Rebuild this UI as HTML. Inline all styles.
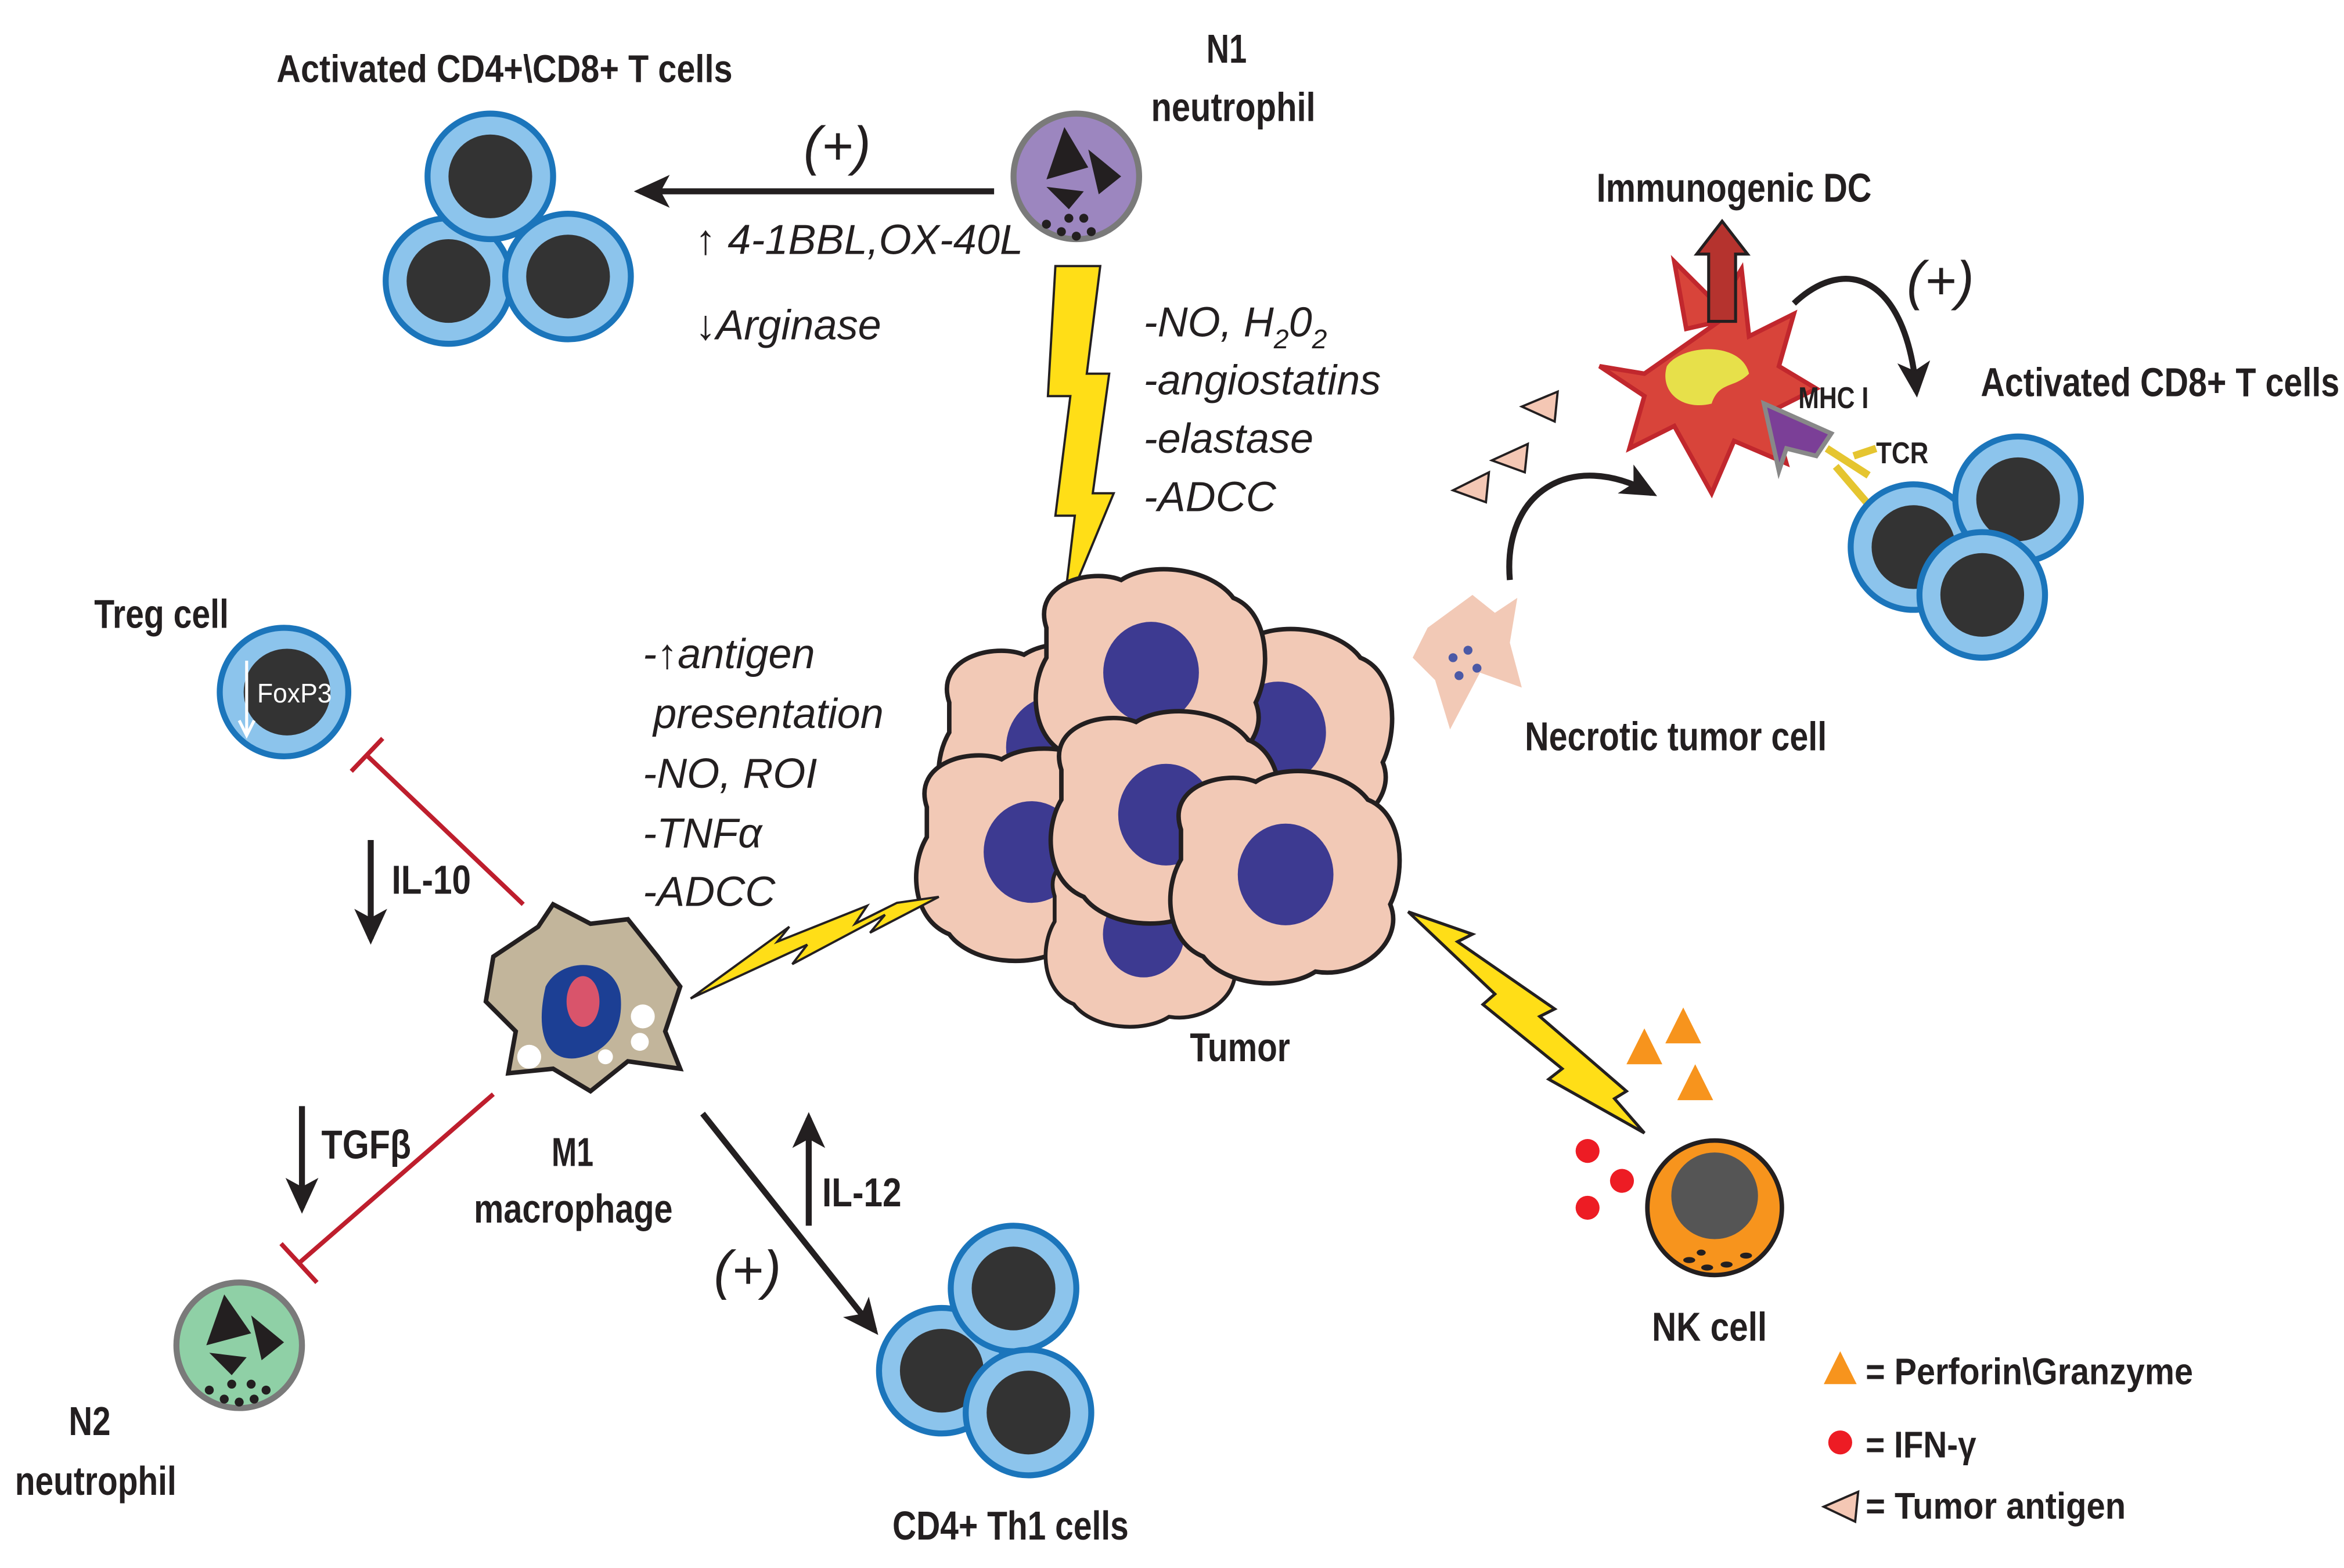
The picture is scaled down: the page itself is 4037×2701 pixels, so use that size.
<!DOCTYPE html>
<html><head><meta charset="utf-8"><style>
html,body{margin:0;padding:0;background:#fff;}
svg{display:block;}
.t{font-family:"Liberation Sans",sans-serif;font-weight:bold;fill:#231f20;}
.i{font-family:"Liberation Sans",sans-serif;font-style:italic;fill:#231f20;}
</style></head><body>
<svg width="4037" height="2701" viewBox="0 0 1568 1049" preserveAspectRatio="none" xmlns="http://www.w3.org/2000/svg">
<defs>
<marker id="ah2" markerWidth="26" markerHeight="26" refX="20" refY="13" orient="auto" markerUnits="userSpaceOnUse" viewBox="0 0 26 26">
<path d="M0,2 L24,13 L0,24 L6,13 z" fill="#231f20"/></marker>
<g id="tc"><circle r="42" fill="#8cc4ec" stroke="#1b75bb" stroke-width="4"/><circle r="28" fill="#333"/></g>
<g id="tumorcell"><path d="M-70,-30 C-80,-60 -40,-70 -20,-62 C0,-75 40,-70 55,-50 C80,-40 80,0 70,20 C80,45 50,70 20,65 C0,78 -40,75 -55,55 C-80,45 -82,10 -70,-10 Z" fill="#f2c9b6" stroke="#231f20" stroke-width="3"/><ellipse cx="0" cy="0" rx="32" ry="34" fill="#3d3a91"/></g>
</defs>

<!-- top-left T cells -->
<text class="t" x="185" y="55" font-size="26" textLength="305" lengthAdjust="spacingAndGlyphs">Activated CD4+\CD8+ T cells</text>
<use href="#tc" x="300" y="188"/><use href="#tc" x="380" y="185"/><use href="#tc" x="328" y="118"/>
<line x1="665" y1="128" x2="428" y2="128" stroke="#231f20" stroke-width="4" marker-end="url(#ah2)"/>
<text class="i" x="560" y="110" font-size="36" font-style="normal" text-anchor="middle">(+)</text>
<text class="i" x="465" y="170" font-size="28">↑ 4-1BBL,OX-40L</text>
<text class="i" x="465" y="227" font-size="28">↓Arginase</text>

<!-- N1 -->
<text class="t" x="807" y="42" font-size="27" textLength="27" lengthAdjust="spacingAndGlyphs">N1</text>
<text class="t" x="770" y="81" font-size="27" textLength="110" lengthAdjust="spacingAndGlyphs">neutrophil</text>
<circle cx="720" cy="118" r="42" fill="#9c86bf" stroke="#7a7a7a" stroke-width="4"/>
<path d="M712,85 L728,112 L700,120 Z M728,100 L750,118 L735,130 Z M700,125 L725,128 L715,140 Z" fill="#231f20"/>
<g fill="#231f20"><circle cx="700" cy="150" r="3"/><circle cx="710" cy="155" r="3"/><circle cx="720" cy="158" r="3"/><circle cx="730" cy="155" r="3"/><circle cx="715" cy="146" r="3"/><circle cx="725" cy="146" r="3"/></g>
<path d="M706,178 L736,178 L727,250 L742,250 L731,330 L745,330 L711,412 L719,345 L706,345 L716,265 L701,265 Z" fill="#ffde17" stroke="#231f20" stroke-width="1.5"/>
<text class="i" x="765" y="225" font-size="28">-NO, H<tspan font-size="18" dy="8">2</tspan><tspan dy="-8">0</tspan><tspan font-size="18" dy="8">2</tspan></text>
<text class="i" x="765" y="264" font-size="28">-angiostatins</text>
<text class="i" x="765" y="303" font-size="28">-elastase</text>
<text class="i" x="765" y="342" font-size="28">-ADCC</text>

<!-- Tumor -->
<use href="#tumorcell" x="705" y="500"/>
<use href="#tumorcell" x="855" y="490"/>
<use href="#tumorcell" x="770" y="450"/>
<use href="#tumorcell" x="690" y="570"/>
<use href="#tumorcell" transform="translate(765,625) scale(0.85)"/>
<use href="#tumorcell" x="780" y="545"/>
<use href="#tumorcell" x="860" y="585"/>
<text class="t" x="796" y="710" font-size="27" textLength="67" lengthAdjust="spacingAndGlyphs">Tumor</text>

<!-- Immunogenic DC -->
<text class="t" x="1068" y="135" font-size="27" textLength="184" lengthAdjust="spacingAndGlyphs">Immunogenic DC</text>
<path d="M1150,215 L1100,250 L1070,245 L1100,265 L1090,300 L1120,285 L1145,330 L1160,295 L1195,310 L1185,275 L1215,260 L1190,245 L1200,210 L1170,225 L1165,180 L1150,205 L1120,175 L1128,220 Z" fill="#d8443a" stroke="#c1272d" stroke-width="3"/>
<path d="M1115,245 C1125,230 1165,228 1170,250 C1160,260 1150,255 1145,270 C1125,275 1110,262 1115,245 Z" fill="#e7e04a"/>
<path d="M1143,215 L1143,170 L1135,170 L1152,148 L1169,170 L1161,170 L1161,215 Z" fill="#b5332e" stroke="#231f20" stroke-width="2"/>
<path d="M1180,270 L1225,290 L1215,305 L1195,300 L1190,315 Z" fill="#7b3f97" stroke="#888" stroke-width="3"/>
<text class="t" x="1203" y="273" font-size="20" textLength="47" lengthAdjust="spacingAndGlyphs">MHC I</text>
<text class="t" x="1255" y="310" font-size="20" textLength="35" lengthAdjust="spacingAndGlyphs">TCR</text>
<path d="M1222,300 L1250,318 M1228,312 L1252,340 M1240,305 L1255,300" stroke="#e5c530" stroke-width="5" fill="none"/>
<path d="M1200,203 C1235,170 1275,185 1282,262" stroke="#231f20" stroke-width="4" fill="none" marker-end="url(#ah2)"/>
<text class="i" x="1298" y="200" font-size="36" font-style="normal" text-anchor="middle">(+)</text>
<text class="t" x="1325" y="265" font-size="27" textLength="240" lengthAdjust="spacingAndGlyphs">Activated CD8+ T cells</text>
<use href="#tc" x="1280" y="366"/><use href="#tc" x="1350" y="334"/><use href="#tc" x="1326" y="398"/>
<g fill="#f4c7b4" stroke="#231f20" stroke-width="1.5">
<path d="M1018,272 L1042,262 L1040,282 Z"/><path d="M998,308 L1022,297 L1020,316 Z"/><path d="M972,328 L996,316 L994,336 Z"/></g>
<path d="M1010,388 C1005,330 1050,300 1105,330" stroke="#231f20" stroke-width="4" fill="none" marker-end="url(#ah2)"/>
<path d="M955,420 L985,398 L1000,410 L1015,400 L1010,430 L1018,460 L990,450 L970,488 L960,455 L945,440 Z" fill="#f2c9b6"/>
<g fill="#4b59a6"><circle cx="972" cy="440" r="3"/><circle cx="982" cy="435" r="3"/><circle cx="976" cy="452" r="3"/><circle cx="988" cy="447" r="3"/></g>
<text class="t" x="1020" y="502" font-size="27" textLength="202" lengthAdjust="spacingAndGlyphs">Necrotic tumor cell</text>

<!-- Treg -->
<text class="t" x="63" y="420" font-size="27" textLength="90" lengthAdjust="spacingAndGlyphs">Treg cell</text>
<circle cx="190" cy="463" r="43" fill="#8cc4ec" stroke="#1b75bb" stroke-width="4"/>
<circle cx="192" cy="463" r="29" fill="#333"/>
<text x="172" y="470" font-family="Liberation Sans,sans-serif" font-size="18" fill="#fff" textLength="50" lengthAdjust="spacingAndGlyphs">FoxP3</text>
<path d="M165,442 L165,490 M160,482 L165,492 L170,482" stroke="#fff" stroke-width="2" fill="none"/>
<line x1="350" y1="605" x2="245" y2="505" stroke="#be1e2d" stroke-width="3"/>
<line x1="235" y1="516" x2="256" y2="494" stroke="#be1e2d" stroke-width="3"/>
<line x1="248" y1="562" x2="248" y2="628" stroke="#231f20" stroke-width="4" marker-end="url(#ah2)"/>
<text class="t" x="262" y="598" font-size="27" textLength="53" lengthAdjust="spacingAndGlyphs">IL-10</text>

<!-- M1 macrophage -->
<path d="M330,640 L360,620 L370,605 L395,618 L420,615 L440,640 L455,660 L445,690 L455,715 L420,710 L395,730 L370,715 L340,718 L345,690 L325,670 Z" fill="#c2b59b" stroke="#231f20" stroke-width="3"/>
<path d="M365,660 C375,640 410,640 415,665 C418,690 405,705 385,708 C365,710 358,690 365,660 Z" fill="#1c3f94"/>
<ellipse cx="390" cy="670" rx="11" ry="17" fill="#d9546b"/>
<g fill="#fff"><circle cx="430" cy="680" r="8"/><circle cx="428" cy="697" r="6"/><circle cx="354" cy="707" r="8"/><circle cx="405" cy="707" r="5"/></g>
<text class="t" x="369" y="780" font-size="27" textLength="28" lengthAdjust="spacingAndGlyphs">M1</text>
<text class="t" x="317" y="818" font-size="27" textLength="133" lengthAdjust="spacingAndGlyphs">macrophage</text>
<path d="M462,668 L540,632 L530,645 L592,612 L582,624 L628,600 L600,604 L572,618 L580,606 L520,630 L528,620 Z" fill="#ffde17" stroke="#231f20" stroke-width="1.5"/>
<text class="i" x="430" y="447" font-size="28">-↑antigen</text>
<text class="i" x="437" y="487" font-size="28">presentation</text>
<text class="i" x="430" y="527" font-size="28">-NO, ROI</text>
<text class="i" x="430" y="567" font-size="28">-TNFα</text>
<text class="i" x="430" y="606" font-size="28">-ADCC</text>

<!-- TGFb / N2 -->
<line x1="202" y1="740" x2="202" y2="808" stroke="#231f20" stroke-width="4" marker-end="url(#ah2)"/>
<text class="t" x="215" y="775" font-size="27" textLength="60" lengthAdjust="spacingAndGlyphs">TGFβ</text>
<line x1="330" y1="732" x2="200" y2="845" stroke="#be1e2d" stroke-width="3"/>
<line x1="188" y1="832" x2="212" y2="858" stroke="#be1e2d" stroke-width="3"/>
<circle cx="160" cy="900" r="42" fill="#8fd0a6" stroke="#7a7a7a" stroke-width="4"/>
<path d="M150,866 L168,892 L138,900 Z M168,880 L190,898 L175,910 Z M140,905 L165,908 L155,920 Z" fill="#231f20"/>
<g fill="#231f20"><circle cx="140" cy="930" r="3"/><circle cx="150" cy="936" r="3"/><circle cx="160" cy="938" r="3"/><circle cx="170" cy="936" r="3"/><circle cx="178" cy="930" r="3"/><circle cx="155" cy="926" r="3"/><circle cx="168" cy="926" r="3"/></g>
<text class="t" x="46" y="960" font-size="27" textLength="28" lengthAdjust="spacingAndGlyphs">N2</text>
<text class="t" x="10" y="1000" font-size="27" textLength="108" lengthAdjust="spacingAndGlyphs">neutrophil</text>

<!-- Th1 -->
<line x1="470" y1="745" x2="585" y2="890" stroke="#231f20" stroke-width="4" marker-end="url(#ah2)"/>
<text class="i" x="500" y="862" font-size="36" font-style="normal" text-anchor="middle">(+)</text>
<line x1="541" y1="820" x2="541" y2="748" stroke="#231f20" stroke-width="4" marker-end="url(#ah2)"/>
<text class="t" x="550" y="807" font-size="27" textLength="53" lengthAdjust="spacingAndGlyphs">IL-12</text>
<use href="#tc" x="630" y="917"/><use href="#tc" x="678" y="862"/><use href="#tc" x="688" y="945"/>
<text class="t" x="597" y="1030" font-size="27" textLength="158" lengthAdjust="spacingAndGlyphs">CD4+ Th1 cells</text>

<!-- NK -->
<path d="M942,610 L1000,665 L992,672 L1045,715 L1036,722 L1100,758 L1080,735 L1088,730 L1030,680 L1040,675 L975,630 L985,625 Z" fill="#ffde17" stroke="#231f20" stroke-width="2"/>
<g fill="#f7941d"><path d="M1088,712 L1100,688 L1112,712 Z"/><path d="M1114,698 L1126,674 L1138,698 Z"/><path d="M1122,736 L1134,712 L1146,736 Z"/></g>
<g fill="#ed1c24"><circle cx="1062" cy="770" r="8"/><circle cx="1085" cy="790" r="8"/><circle cx="1062" cy="808" r="8"/></g>
<circle cx="1147" cy="808" r="45" fill="#f7941d" stroke="#231f20" stroke-width="3"/>
<circle cx="1147" cy="800" r="29" fill="#555"/>
<g fill="#231f20"><ellipse cx="1130" cy="843" rx="4" ry="2"/><ellipse cx="1142" cy="848" rx="4" ry="2"/><ellipse cx="1155" cy="846" rx="4" ry="2"/><ellipse cx="1168" cy="840" rx="4" ry="2"/><ellipse cx="1138" cy="838" rx="3" ry="2"/></g>
<text class="t" x="1105" y="897" font-size="27" textLength="77" lengthAdjust="spacingAndGlyphs">NK cell</text>

<!-- legend -->
<path d="M1220,926 L1231,904 L1242,926 Z" fill="#f7941d"/>
<text class="t" x="1248" y="926" font-size="25" textLength="219" lengthAdjust="spacingAndGlyphs">= Perforin\Granzyme</text>
<circle cx="1231" cy="965" r="8" fill="#ed1c24"/>
<text class="t" x="1248" y="975" font-size="25" textLength="74" lengthAdjust="spacingAndGlyphs">= IFN-γ</text>
<path d="M1220,1008 L1243,998 L1241,1018 Z" fill="#f4c7b4" stroke="#231f20" stroke-width="1.5"/>
<text class="t" x="1248" y="1016" font-size="25" textLength="174" lengthAdjust="spacingAndGlyphs">= Tumor antigen</text>
</svg>
</body></html>
